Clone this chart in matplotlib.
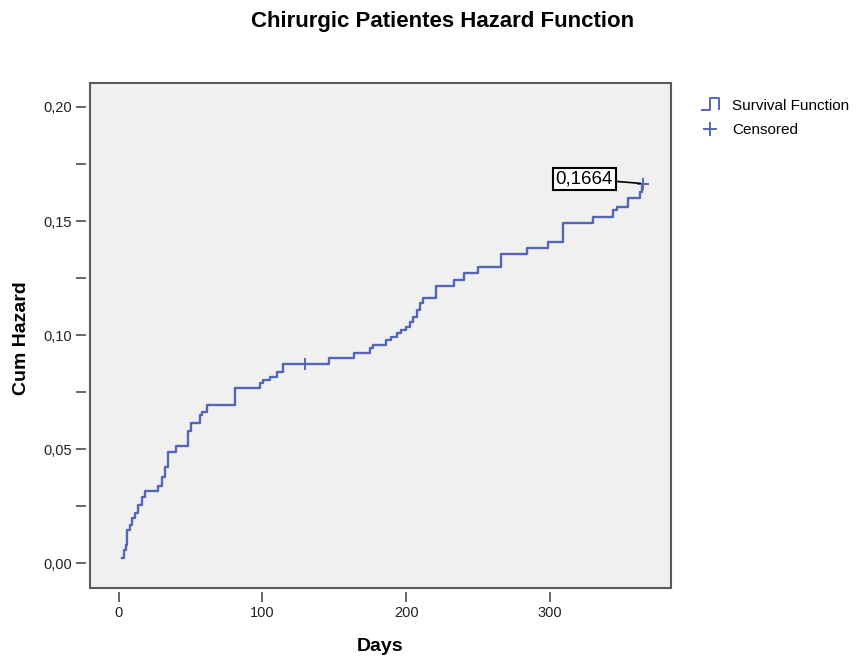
import numpy as np
import matplotlib
matplotlib.use("Agg")
import matplotlib.pyplot as plt
from matplotlib.lines import Line2D
from matplotlib.patches import Rectangle
from matplotlib.legend_handler import HandlerBase
from matplotlib.ticker import FuncFormatter, MultipleLocator

plt.rcParams['font.family'] = ['Liberation Sans', 'DejaVu Sans']

# event times (days) and cumulative hazard after each event
event_days = [2, 4, 5, 6, 8, 9.5, 11, 13.5, 16, 18,
              27.5, 30, 32, 34.5, 40, 48, 50, 56.5, 58, 61.5,
              81, 98, 100.5, 105, 110, 114.5, 146, 164, 175, 177,
              186, 189.5, 193.5, 196.5, 200, 203, 205, 207.5, 209.5, 212,
              221, 233, 240, 250, 266, 284, 299, 309, 330, 344,
              347, 354.5, 362.5, 364]
cum_hazard = [0.0022, 0.0058, 0.0080, 0.0146, 0.0168, 0.0199, 0.0220, 0.0256, 0.0291, 0.0317,
              0.0339, 0.0378, 0.0422, 0.0488, 0.0514, 0.0580, 0.0615, 0.0650, 0.0664, 0.0694,
              0.0767, 0.0789, 0.0803, 0.0818, 0.0840, 0.0872, 0.0898, 0.0923, 0.0942, 0.0955,
              0.0979, 0.0993, 0.1008, 0.1022, 0.1037, 0.1059, 0.1080, 0.1110, 0.1139, 0.1161,
              0.1215, 0.1241, 0.1271, 0.1300, 0.1355, 0.1380, 0.1409, 0.1493, 0.1519, 0.1548,
              0.1563, 0.1600, 0.1628, 0.1664]

censored_days = [129.5, 365]
censored_hazard = [0.0872, 0.1664]

x_ticks = [0, 100, 200, 300]
y_ticks = [0.0, 0.05, 0.10, 0.15, 0.20]

line_color = '#5766b2'
frame_color = '#5a5a5a'


class StepHandler(HandlerBase):
    # draws the little "_|‾|" glyph used for the survival curve in the legend
    def create_artists(self, legend, orig_handle, xdescent, ydescent,
                       width, height, fontsize, trans):
        xs = np.array([0.0, 0.5, 0.5, 1.0, 1.0]) * width - xdescent
        ys = np.array([0.0, 0.0, 1.0, 1.0, 0.1]) * height * 1.1 - ydescent
        ln = Line2D(xs, ys, color=orig_handle.get_color(), lw=1.4, transform=trans)
        return [ln]


fig = plt.figure(figsize=(8.59, 6.59), dpi=100)
ax = fig.add_axes([90 / 859, 1 - 588.3 / 659, 581 / 859, 505.3 / 659])
ax.set_facecolor('#f0f0f0')

# step curve, held flat to the last censored time
xs = event_days + [censored_days[-1]]
ys = cum_hazard + [cum_hazard[-1]]
ax.step(xs, ys, where='post', color=line_color, lw=1.7, zorder=3)
ax.plot(censored_days, censored_hazard, linestyle='none', marker='+',
        ms=8, mew=1.4, color=line_color, zorder=4)

last_val = cum_hazard[-1]
ax.annotate(f"{last_val:.4f}".replace('.', ','),
            xy=(censored_days[-1], censored_hazard[-1]), xytext=(324, 0.1685),
            ha='center', va='center', fontsize=13.5,
            bbox=dict(boxstyle='square,pad=0.15', fc='white', ec='black', lw=1.5),
            arrowprops=dict(arrowstyle='-', color='black', lw=1.2, shrinkA=0, shrinkB=2),
            zorder=5)

ax.set_xlim(-20, 384.3)
ax.set_ylim(-0.011, 0.2105)
ax.set_xticks(x_ticks)
ax.set_yticks(y_ticks)
ax.yaxis.set_minor_locator(MultipleLocator(0.025))
ax.yaxis.set_major_formatter(FuncFormatter(lambda v, p: f"{v:.2f}".replace('.', ',')))

# ticks sit a few pixels away from the frame, so the spines are only tick carriers
for side in ['left', 'bottom']:
    ax.spines[side].set_position(('outward', 3))
for side in ax.spines:
    ax.spines[side].set_visible(False)
ax.add_patch(Rectangle((0, 0), 1, 1, transform=ax.transAxes, fill=False,
                       edgecolor=frame_color, lw=1.5, clip_on=False, zorder=6))

ax.tick_params(axis='both', which='major', length=7, width=1.3, color=frame_color,
               labelsize=10.5, labelcolor='#222222', pad=3)
ax.tick_params(axis='y', which='minor', length=7, width=1.3, color=frame_color)

ax.set_xlabel('Days', fontsize=14, fontweight='bold')
ax.set_ylabel('Cum Hazard', fontsize=14, fontweight='bold')
ax.xaxis.set_label_coords(0.5, -0.098)
ax.yaxis.set_label_coords(-0.103, 0.496)

fig.text(443 / 859, 1 - 21 / 659, 'Chirurgic Patientes Hazard Function',
         ha='center', va='center', fontsize=16, fontweight='bold')

step_handle = Line2D([], [], color=line_color)
cens_handle = Line2D([], [], color=line_color, marker='+', linestyle='none', ms=10, mew=1.4)
fig.legend([step_handle, cens_handle], ['Survival Function', 'Censored'],
           handler_map={step_handle: StepHandler()},
           loc='upper left', bbox_to_anchor=(691 / 859, 1 - 88 / 659),
           frameon=False, fontsize=11, handlelength=1.1, handletextpad=0.9,
           labelspacing=0.7, borderpad=0.2)

fig.savefig('out.png', dpi=100)
